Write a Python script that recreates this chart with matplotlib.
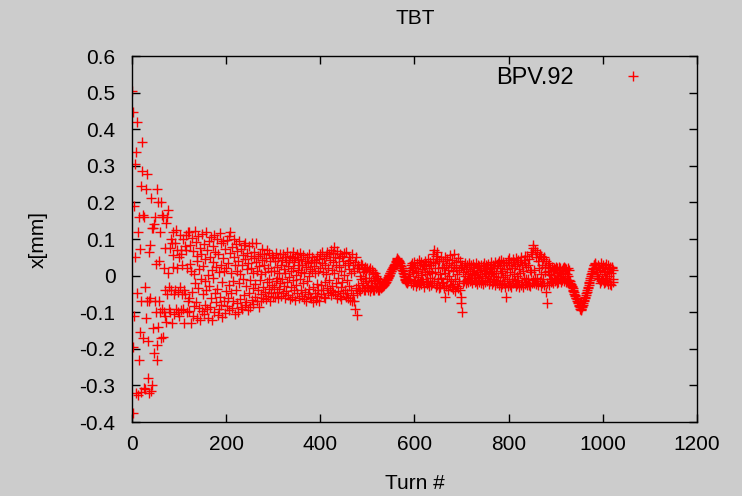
"""Turn-by-turn horizontal position at BPV.92 (gnuplot-style scatter)."""

import matplotlib
matplotlib.use("Agg")
import matplotlib.pyplot as plt
import numpy as np

# beam position per turn, in micrometres (turn number = index)
x_um = [
    # 0-119: large kick, decohering
    505, 446, -375, -196, 190, -110, 305, 50, -320, 337, -47, 419, -326, 120, -229, 160, -153, 73, 245, -70,
    -317, 287, 366, -171, 165, -307, 160, -310, -32, -115, 238, -70, 278, -279, -178, 65, -70, -320, 83, -60,
    211, -314, 130, -300, -143, 130, -210, 140, -70, 160, 32, -100, 237, -190, -229, 200, -140, 40, -70, -100,
    120, -170, 200, -90, 165, -167, 160, 20, -100, -40, 75, -110, 145, -127, 160, -50, 180, 7, -90, -30,
    75, -100, -40, 100, 90, -130, 56, 120, 24, -50, -105, 90, -40, -90, 125, 70, 20, -100, -45, 50,
    -110, 110, -30, -95, 60, 70, -50, 30, -90, 100, -40, -130, 80, -50, 110, 70, -100, 20, 120, -70,
    # 120-259
    118, -62, -97, 31, 84, -128, 12, 103, -45, -110, 67, 5, -83, 122, -20, -71, 92, 40, -116, 55,
    -33, 108, -88, 18, 75, -122, 60, -8, -96, 113, -51, 26, -104, 87, -14, 45, -79, 119, -40, -92,
    70, 2, -115, 96, -28, 52, -86, 106, -62, 15, -120, 82, -5, 38, -99, 110, -48, 64, -73, 23,
    101, -36, -108, 58, 9, -90, 116, -57, 30, -80, 88, -18, -112, 47, 95, -68, 14, -101, 74, -42,
    20, 98, -84, 35, -60, 108, -25, -95, 63, 118, -46, 8, -89, 79, -15, -70, 52, 100, -104, 28,
    -38, 86, -75, 12, 67, -98, 41, -20, 94, -63, 5, -86, 72, 30, -92, 56, -10, 84, -52, -80,
    45, 90, -28, -72, 18, 62, -95, 35, -48, 80, -12, -86, 54, 22, -66, 88, -35, 8, -78, 48,
    # 260-299
    66, -24, -58, 38, 88, -70, 14, -40, 55, -85, 26, -12, 60, -50, 4, -68, 42, 72, -30, -62,
    30, 58, -44, 10, -65, 48, -18, 70, -55, 22, -36, 62, -8, -70, 40, 12, -48, 56, -25, -58,
    # 300-479
    52, -30, 12, -58, 40, -15, 62, -45, 24, -5, -62, 48, 8, -36, 58, -20, 30, -55, 44, -10,
    -48, 60, 18, -28, 50, -62, 6, 38, -42, 66, -18, 26, -52, 42, -4, -65, 54, 14, -32, 48,
    -58, 22, 64, -12, -40, 36, -66, 50, 2, -26, 58, -48, 16, 44, -60, 28, -8, 62, -38, 10,
    46, -55, 30, -20, 56, -64, 8, 40, -44, 24, -70, 52, -14, 34, -50, 60, -2, -36, 18, -58,
    38, -62, 14, 50, -30, -72, 26, 44, -48, 6, -66, 36, -22, 54, -56, 12, -40, 46, -68, 20,
    58, -26, -50, 34, 64, -40, 10, -58, 48, -16, 28, -62, 54, 4, -34, 66, -46, 22, -12, 60,
    -38, 44, 70, -54, 16, -28, 62, -44, 36, 8, 79, -50, 52, -20, 30, -60, 68, -6, -42, 48,
    24, -56, 60, -32, 12, -64, 54, -18, 40, -48, 2, 62, -38, 28, -58, 64, -12, -46, 34, -60,
    50, -28, 18, -66, 44, -40, 8, 58, -70, 30, -52, 14, -68, 38, -90, -34, 52, -108, 22, -48,
    # 480-1019
    30, -25, -40, 20, 0, -42, 32, -10, -35, 28, -20, 10, -40, 18, -5, -38, 25, -15, 12, -30,
    22, -25, -40, 15, -5, -42, 20, -15, -35, 15, -28, 5, -40, 10, -12, -38, 8, -20, 0, -35,
    -5, -30, -38, -10, -20, -40, -15, -30, -35, -28, -32, -30, -27, -28, -24, -25, -22, -20, -20, -16,
    -13, -12, -8, -7, -3, -2, 2, 3, 7, 8, 12, 14, 17, 18, 22, 24, 27, 28, 32, 33,
    38, 40, 44, 47, 46, 44, 43, 40, 37, 34, 30, 27, 22, 20, 15, 12, 6, 5, 0, -3,
    -8, -12, -15, -18, -20, -18, -14, -8, -2, 5, 20, -10, 30, -20, 15, 35, -25, 10, 25, -15,
    38, -12, 22, -28, 6, 34, -20, 14, -4, 42, -26, 28, -16, 2, 36, -24, 18, -8, 30, -18,
    26, -30, 10, 40, -14, 32, -22, 4, 45, -18, 20, -28, 12, 36, -6, -25, 28, 8, -20, 38,
    60, 70, -15, 35, 10, -30, 55, 65, -25, 45, -10, 20, -35, 40, 5, -30, 50, -5, 25, -20,
    40, -18, 22, -35, 52, -58, 8, 30, -28, 46, -10, 16, -38, 34, 0, -26, 56, -14, 24, -32,
    44, -22, 12, -36, 30, 58, -8, -42, 20, 36, -28, 4, 48, -34, 16, -14, 40, -40, 24, -58,
    -76, -99, 30, -20, 10, 25, -15, 35, 0, -20, 18, 28, -12, 4, -18, 30, -6, 34, -15, 12,
    28, -12, 8, -20, 32, 14, -6, 24, -18, 2, 34, -14, 20, -22, 10, 30, -4, -16, 26, 4,
    16, -20, 30, 0, -12, 26, -24, 12, 34, -6, 22, -18, 6, 28, -14, 18, -2, 32, -22, 10,
    24, -14, 4, 36, -22, 14, -8, 30, -18, 20, 0, -26, 38, 8, -12, 26, -20, 34, -4, -25,
    40, -15, 22, -30, 8, 42, -24, 14, -4, 38, -20, 28, -30, 2, 35, -58, 18, -10, 44, -28,
    30, -15, 48, -26, 10, 36, -30, 20, -8, 45, -20, 4, 38, -14, 26, -28, 48, -2, 32, -22,
    44, -12, 18, -30, 38, 6, -26, 50, -16, 28, -32, 12, 42, -6, -22, 34, 55, -10, 24, -25,
    55, -10, 30, -25, 45, 15, -28, 65, 10, -20, 60, 83, -12, 75, 15, -20, 70, -5, 50, -22,
    65, -8, 40, -25, 20, 50, -15, 60, 5, -28, 55, -20, 30, 45, -10, -25, 50, 10, 25, -44,
    40, -20, -75, 12, 30, -25, 5, 35, -10, 20, -18, 2, 25, -15, 15, -20, 22, -6, 18, -14,
    24, -12, 8, -20, 20, 0, -16, 25, 10, -8, 22, -18, 4, 15, -12, 20, -5, 24, -15, 6,
    22, -10, -18, 18, 5, -15, 20, 0, -12, 15, -20, -15, -25, -22, -30, -28, -35, -38, -42, -45,
    -50, -52, -55, -60, -62, -65, -70, -72, -75, -80, -82, -86, -90, -94, -92, -90, -86, -84, -80, -75,
    -70, -66, -62, -58, -54, -48, -44, -40, -35, -30, -26, -20, -16, -12, -6, -2, 4, 8, 12, 18,
    22, 28, 30, 35, 32, 25, 20, 10, 5, 0, -5, 30, -10, 25, -20, 15, 35, -15, 20, -10,
    30, -12, 14, -20, 25, 4, -18, 32, -6, 10, -15, 28, -24, 18, 0, -22, 25, 8, -25, 20,
    # 1020-1023
    25, -10, -18, 15,
]

turns = np.arange(len(x_um))
x_mm = np.array(x_um) / 1000.0

plt.rcParams["font.family"] = ["Liberation Sans", "DejaVu Sans"]
plt.rcParams["axes.unicode_minus"] = False

bg = "#cccccc"
fig = plt.figure(figsize=(7.42, 4.96), dpi=100, facecolor=bg)
ax = fig.add_axes([0.178, 0.149, 0.761, 0.738], facecolor=bg)

ax.plot(turns, x_mm, linestyle="none", marker="+", color="#ff0000",
        markersize=7, markeredgewidth=1.0, label="BPV.92")

ax.set_xlim(0, 1200)
ax.set_ylim(-0.4, 0.6)
ax.set_xticks(np.arange(0, 1201, 200))
ax.set_yticks(np.round(np.arange(-0.4, 0.61, 0.1), 1))
ax.yaxis.set_major_formatter(plt.FuncFormatter(lambda v, p: f"{round(v, 1) + 0.0:g}"))
ax.tick_params(direction="in", length=6, width=1.0, top=True, right=True,
               labelsize=15, colors="black")
ax.tick_params(axis="y", pad=12)
ax.tick_params(axis="x", pad=9)
for s in ax.spines.values():
    s.set_linewidth(1.0)
    s.set_color("black")

ax.set_xlabel("Turn #", fontsize=15)
ax.set_ylabel("x[mm]", fontsize=15)
ax.xaxis.set_label_coords(0.5, -0.142)
ax.yaxis.set_label_coords(-0.149, 0.5)
fig.text(0.559, 0.962, "TBT", ha="center", va="center", fontsize=15)

ax.legend(loc="upper right", bbox_to_anchor=(0.941, 0.995), borderaxespad=0,
          markerfirst=False, frameon=False, fontsize=17, handletextpad=1.6,
          handlelength=1.8, numpoints=1)

fig.savefig("out.png", dpi=100, facecolor=bg)
